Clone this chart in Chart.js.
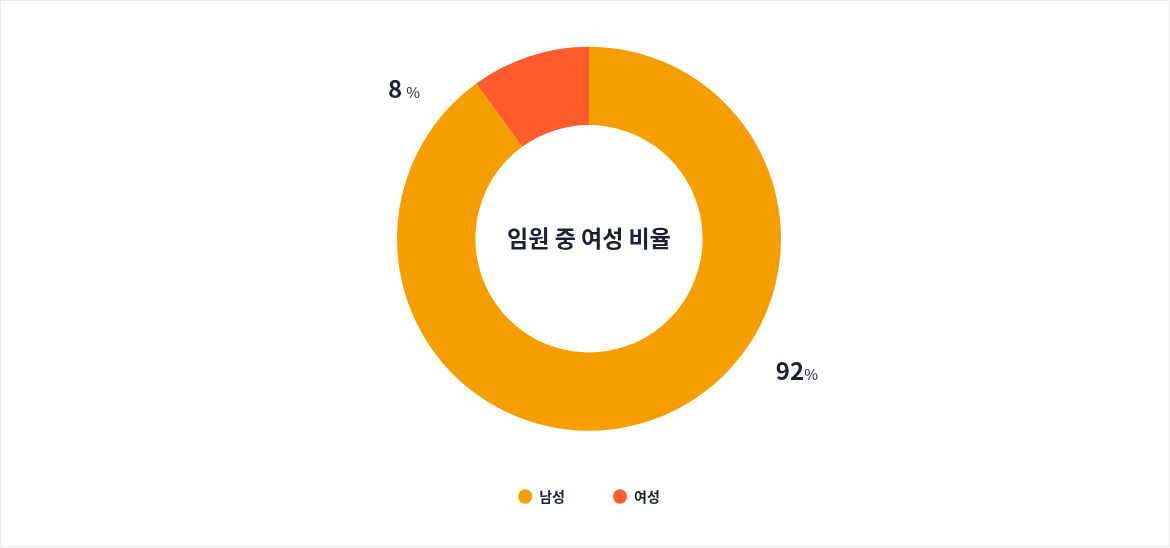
<!DOCTYPE html>
<html lang="ko">
<head>
<meta charset="utf-8">
<title>임원 중 여성 비율</title>
<script src="https://cdn.jsdelivr.net/npm/chart.js@4.4.0/dist/chart.umd.min.js"></script>
<style>
    html, body { margin: 0; padding: 0; background: #fff; }
    .chart-box {
        width: 1170px;
        height: 547px;
        box-sizing: border-box;
        border: 1px solid #ebebeb;
        position: relative;
    }
</style>
</head>
<body>
<div class="chart-box">
    <canvas id="genderChart"></canvas>
</div>
<script>
// 데이터
const genderLabels = ['남성', '여성'];
const genderShares = [90, 10];        // 그림에서 읽은 조각 크기
const shareTexts = ['92', '8'];       // 표시되는 퍼센트
const genderColors = ['#F59E00', '#FF5C2E'];
const centerTitle = '임원 중 여성 비율';

const FONT = '"Noto Sans CJK KR", "Noto Sans", sans-serif';
const TEXT_COLOR = '#1b2130';

// 가운데 제목
const centerText = {
    id: 'centerText',
    afterDatasetsDraw(chart) {
        const meta = chart.getDatasetMeta(0);
        if (!meta.data.length) return;
        const { x, y } = meta.data[0];
        const ctx = chart.ctx;
        ctx.save();
        ctx.font = 'bold 23px ' + FONT;
        ctx.fillStyle = TEXT_COLOR;
        ctx.textAlign = 'center';
        ctx.textBaseline = 'middle';
        ctx.fillText(centerTitle, x, y);
        ctx.restore();
    }
};

// 바깥 퍼센트 라벨
const outerLabels = {
    id: 'outerLabels',
    afterDatasetsDraw(chart) {
        const meta = chart.getDatasetMeta(0);
        if (!meta.data.length) return;
        const arc0 = meta.data[0];
        const cx = arc0.x, cy = arc0.y, r = arc0.outerRadius;
        // 위치: 반지름 기준 오프셋
        const spots = [
            { dx: 1.083, dy: 0.698, gap: 0 },   // 남성
            { dx: -0.963, dy: -0.771, gap: 4 }  // 여성
        ];
        const ctx = chart.ctx;
        ctx.save();
        ctx.textBaseline = 'alphabetic';
        ctx.fillStyle = TEXT_COLOR;
        shareTexts.forEach(function (txt, i) {
            const s = spots[i];
            ctx.font = 'bold 24px ' + FONT;
            const w1 = ctx.measureText(txt).width;
            ctx.font = '15px ' + FONT;
            const w2 = ctx.measureText('%').width;
            const total = w1 + s.gap + w2;
            const left = cx + s.dx * r - total / 2;
            const base = cy + s.dy * r + 7;
            ctx.font = 'bold 24px ' + FONT;
            ctx.fillText(txt, left, base);
            ctx.font = '15px ' + FONT;
            ctx.fillText('%', left + w1 + s.gap, base);
        });
        ctx.restore();
    }
};

// 범례 아래 여백
const legendFit = {
    id: 'legendFit',
    beforeInit(chart) {
        const origFit = chart.legend.fit;
        chart.legend.fit = function fit() {
            origFit.bind(chart.legend)();
            this.height += 32.5;
        };
    }
};

new Chart(document.getElementById('genderChart'), {
    type: 'doughnut',
    data: {
        labels: genderLabels,
        datasets: [{
            data: genderShares,
            backgroundColor: genderColors,
            borderWidth: 0,
            hoverOffset: 0
        }]
    },
    options: {
        responsive: true,
        maintainAspectRatio: false,
        animation: false,
        radius: 192,
        cutout: 120,
        layout: {
            padding: { top: 35, bottom: 0, left: 8, right: 0 }
        },
        plugins: {
            legend: {
                position: 'bottom',
                labels: {
                    usePointStyle: true,
                    pointStyle: 'circle',
                    pointStyleWidth: 14,
                    boxHeight: 10.3,
                    padding: 48,
                    color: TEXT_COLOR,
                    font: { family: FONT, size: 14, weight: 'bold' }
                }
            },
            tooltip: { enabled: false }
        }
    },
    plugins: [centerText, outerLabels, legendFit]
});
</script>
</body>
</html>
